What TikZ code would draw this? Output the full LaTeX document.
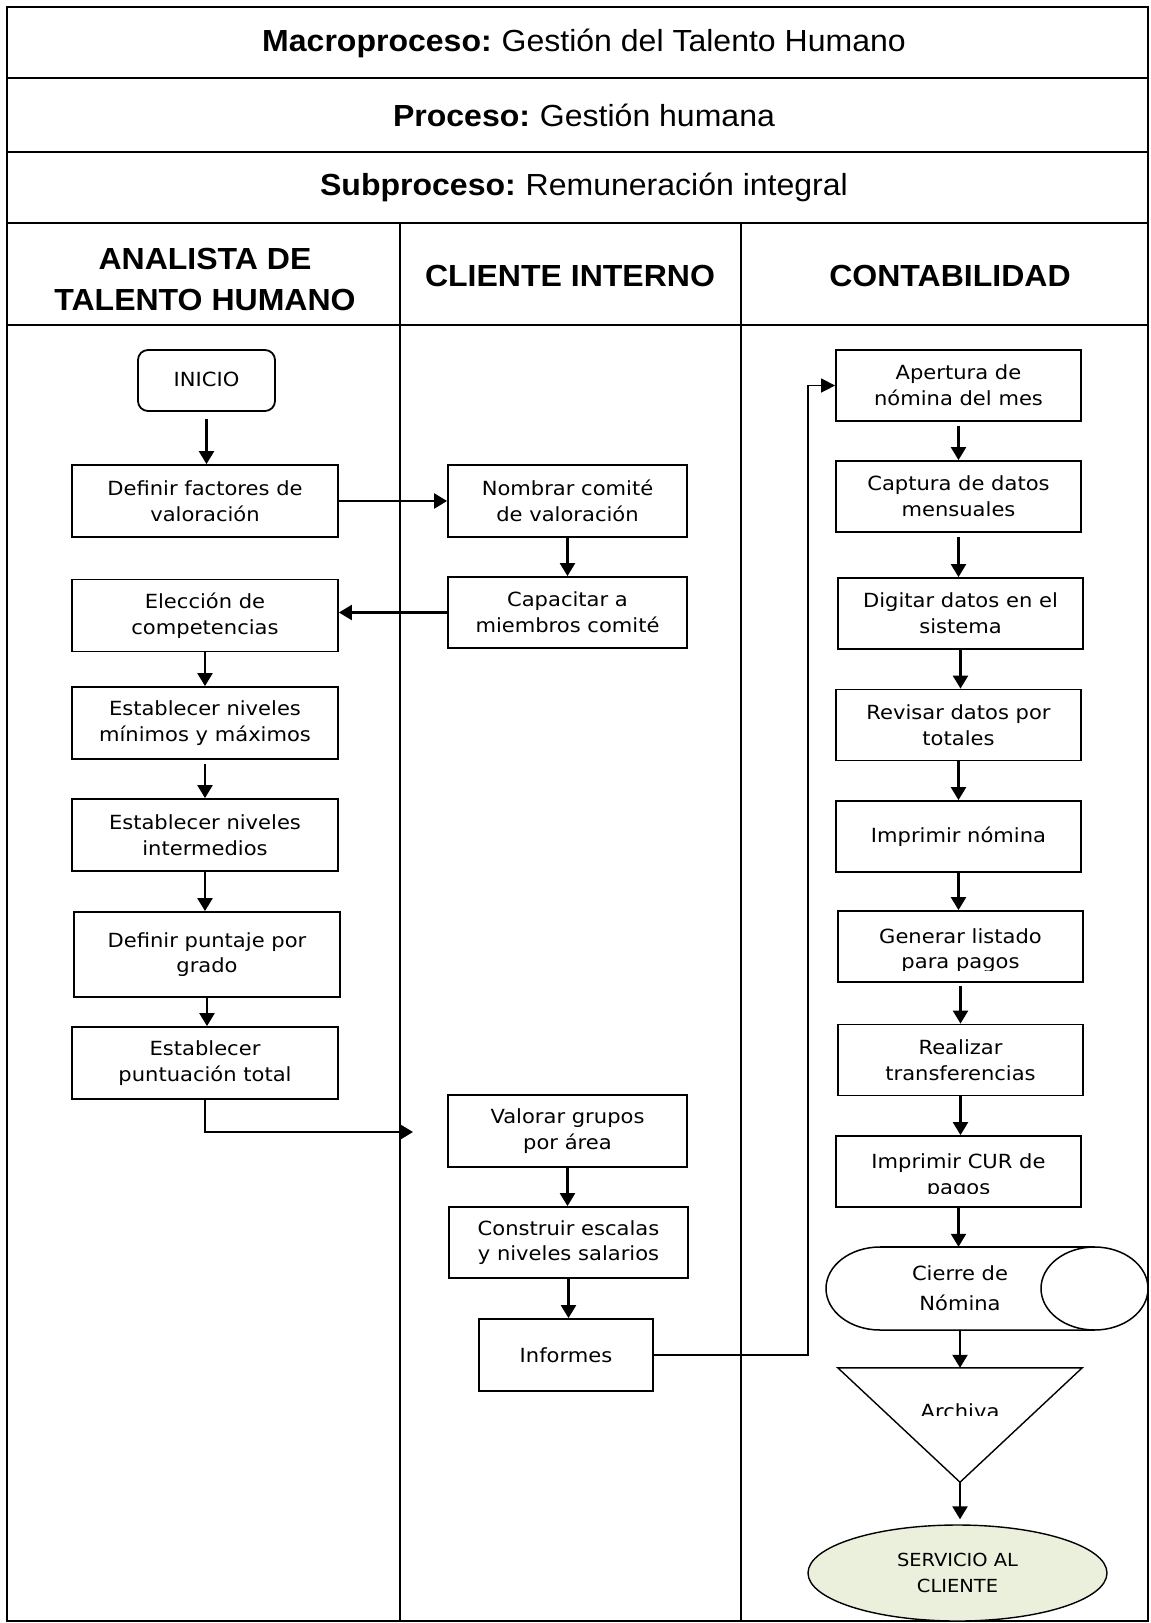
\documentclass[tikz,border=0pt]{standalone}
\usepackage{fontspec}
\setmainfont{Liberation Sans}
\newfontfamily\boxfont[FakeStretch=1.08]{DejaVu Sans}
\newfontfamily\headfont[FakeStretch=1.05]{Liberation Sans}
\usetikzlibrary{arrows.meta,shapes.geometric}
\definecolor{svcfill}{RGB}{235,240,221}

\begin{document}
\begin{tikzpicture}[x=1pt,y=-1pt,
  frame/.style={line width=2.2pt},
  head/.style={font={\headfont\fontsize{30.5}{41}\selectfont}, align=center, inner sep=0},
  headcol/.style={head, font={\headfont\bfseries\fontsize{30.5}{41}\selectfont}},
  proc/.style={draw, line width=1.8pt, font={\boxfont\fontsize{19.5}{25.7}\selectfont},
    align=center, inner sep=0, minimum height=72pt},
  lbox/.style={proc, minimum width=266pt},
  mbox/.style={proc, minimum width=239pt},
  rbox/.style={proc, minimum width=245pt, minimum height=71pt},
  txt/.style={font={\boxfont\fontsize{19.5}{25.7}\selectfont}, align=center, inner sep=0},
  flow/.style={line width=2.3pt, -{Triangle[length=13pt,width=15pt]}},
  link/.style={line width=1.5pt, -{Triangle[length=14pt,width=14pt]}}
]
\useasboundingbox (0,0) rectangle (1151,1623);

% ---- table frame ----
\draw[frame] (7,7) rectangle (1148,1621);
\draw[frame] (7,78) -- (1148,78);
\draw[frame] (7,152) -- (1148,152);
\draw[frame] (7,223) -- (1148,223);
\draw[frame] (7,325) -- (1148,325);
\draw[frame] (400,223) -- (400,1621);
\draw[frame] (741,223) -- (741,1621);

% ---- titles ----
\node[head] (macro) at (584,43) {\textbf{Macroproceso:}\hspace{-2pt} Gestión del Talento Humano};
\node[head] (proceso) at (584,115) {\textbf{Proceso:}\hspace{-2pt} Gestión humana};
\node[head] (subproceso) at (584,187) {\textbf{Subproceso:}\hspace{-2pt} Remuneración integral};
\node[headcol] (laneA) at (205,279.5) {ANALISTA DE\\TALENTO HUMANO};
\node[headcol] (laneB) at (570,276) {CLIENTE INTERNO};
\node[headcol] (laneC) at (950,276) {CONTABILIDAD};

% ---- analista de talento humano ----
\node[proc, rounded corners=10pt, minimum width=137pt, minimum height=61pt] (inicio) at (206.5,380.5) {\raisebox{3pt}{INICIO}};
\node[lbox] (factores) at (205,501) {Definir factores de\\valoración};
\node[lbox] (eleccion) at (205,615.5) {Elección de\\competencias};
\node[lbox] (minmax) at (205,723) {Establecer niveles\\mínimos y máximos};
\node[lbox] (intermed) at (205,835) {Establecer niveles\\intermedios};
\node[lbox, minimum height=85pt] (puntaje) at (207,954.5) {Definir puntaje por\\grado};
\node[lbox] (puntuacion) at (205,1063) {Establecer\\puntuación total};

% ---- cliente interno ----
\node[mbox] (nombrar) at (567.5,501) {Nombrar comité\\de valoración};
\node[mbox, minimum height=71pt] (capacitar) at (567.5,612.5) {Capacitar a\\miembros comité};
\node[mbox] (valorar) at (567.5,1131) {Valorar grupos\\por área};
\node[mbox, minimum height=71pt] (construir) at (568.5,1242.5) {Construir escalas\\y niveles salarios};
\node[proc, minimum width=174pt] (informes) at (566,1355) {Informes};

% ---- contabilidad ----
\node[rbox] (apertura) at (958.5,385.5) {Apertura de\\nómina del mes};
\node[rbox] (captura) at (958.5,496.5) {Captura de datos\\mensuales};
\node[rbox] (digitar) at (960.5,613.5) {Digitar datos en el\\sistema};
\node[rbox] (revisar) at (958.5,725) {Revisar datos por\\totales};
\node[rbox] (imprimir) at (958.5,836.5) {Imprimir nómina};
\node[rbox] (generar) at (960.5,946.5) {};
\node[rbox] (realizar) at (960.5,1060) {Realizar\\transferencias};
\node[rbox] (cur) at (958.5,1171.5) {};
\begin{scope}
  \clip (838,911) rectangle (1083,970);
  \node[txt] at (960.5,950.5) {Generar listado\\para pagos};
\end{scope}
\begin{scope}
  \clip (836,1136) rectangle (1081,1193.3);
  \node[txt] at (958.5,1176) {Imprimir CUR de\\pagos};
\end{scope}

% drum-shaped closing step
\node[minimum width=322pt, minimum height=83pt, inner sep=0] (cierre) at (987,1288.5) {};
\draw[line width=1.5pt] (880,1247) arc[start angle=90, end angle=270, x radius=54pt, y radius=41.5pt]
  -- (1094.5,1330);
\draw[line width=1.5pt] (880,1247) -- (1094.5,1247);
\draw[line width=1.5pt] (1094.5,1288.5) ellipse [x radius=53.5pt, y radius=41.5pt];
\node[txt, font={\boxfont\fontsize{19.5}{30}\selectfont}] (cierretxt) at (960,1288) {Cierre de\\Nómina};

% inverted triangle for archiving
\node[minimum width=244pt, minimum height=114pt, inner sep=0] (archiva) at (960,1425) {};
\draw[line width=1.4pt] (archiva.north west) -- (archiva.north east) -- (archiva.south) -- cycle;
\begin{scope}
  \clip (838,1368) rectangle (1082,1415);
  \node[txt] at (960,1411) {Archiva};
\end{scope}

\node[ellipse, draw, fill=svcfill, line width=1.4pt, minimum width=299pt, minimum height=96pt, inner sep=0,
  font={\boxfont\fontsize{18}{26.5}\selectfont}, align=center] (servicio) at (957.5,1573) {SERVICIO AL\\CLIENTE};

% ---- connectors ----
\draw[flow, shorten <=7pt] (inicio.south) -- (inicio.south |- factores.north);
\draw[flow] (factores.east) -- (factores.east -| nombrar.west);
\draw[flow] (nombrar.south) -- (nombrar.south |- capacitar.north);
\draw[flow] (capacitar.west) -- (capacitar.west -| eleccion.east);
\draw[flow] (eleccion.south) -- (eleccion.south |- minmax.north);
\draw[flow, shorten <=4pt] (minmax.south) -- (minmax.south |- intermed.north);
\draw[flow] (intermed.south) -- (intermed.south |- puntaje.north);
\draw[flow] (puntaje.south) -- (puntaje.south |- puntuacion.north);
\coordinate (valin) at (413,1132);
\draw[flow] (puntuacion.south) |- (valin);
\draw[flow] (valorar.south) -- (valorar.south |- construir.north);
\draw[flow] (construir.south) -- (construir.south |- informes.north);
\coordinate (bend) at (808,385.5);
\draw[link] (informes.east) -| (bend) -- (apertura.west);
\draw[flow, shorten <=4pt] (apertura.south) -- (apertura.south |- captura.north);
\draw[flow, shorten <=4pt] (captura.south) -- (captura.south |- digitar.north);
\draw[flow] (digitar.south) -- (digitar.south |- revisar.north);
\draw[flow] (revisar.south) -- (revisar.south |- imprimir.north);
\draw[flow] (imprimir.south) -- (imprimir.south |- generar.north);
\draw[flow, shorten <=3pt] (generar.south) -- (generar.south |- realizar.north);
\draw[flow] (realizar.south) -- (realizar.south |- cur.north);
\draw[flow] (cur.south) -- (cur.south |- cierre.north);
\draw[flow] (archiva.north |- cierre.south) -- (archiva.north);
\draw[flow, shorten >=5pt] (archiva.south) -- (archiva.south |- servicio.north);
\end{tikzpicture}
\end{document}
